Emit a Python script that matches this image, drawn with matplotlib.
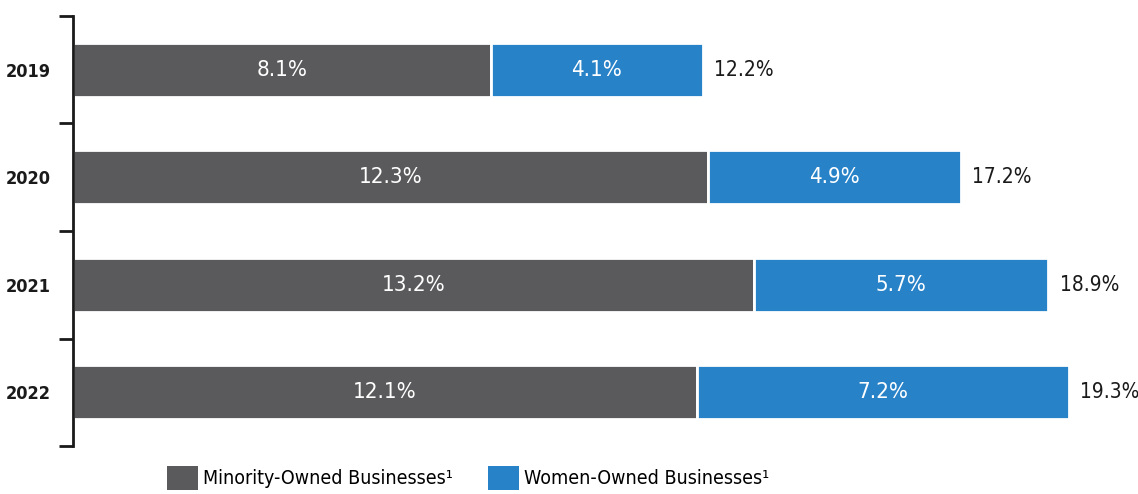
import matplotlib
matplotlib.use("Agg")
import matplotlib.pyplot as plt
from matplotlib.patches import Patch

years = ["2019", "2020", "2021", "2022"]
minority = [8.1, 12.3, 13.2, 12.1]
women = [4.1, 4.9, 5.7, 7.2]
totals = [12.2, 17.2, 18.9, 19.3]
series_names = ["Minority-Owned Businesses¹", "Women-Owned Businesses¹"]

gray = "#5a5a5c"
blue = "#2882c8"
plt.rcParams["font.family"] = ["DejaVu Sans"]
plt.rcParams["font.stretch"] = "condensed"

fig = plt.figure(figsize=(11.38, 4.94), dpi=100)
ax = fig.add_axes([73/1138, 48/494, 1 - 73/1138, 430/494])

y = list(range(len(years)))
ax.barh(y, minority, height=0.5, color=gray, edgecolor="white", linewidth=2)
ax.barh(y, women, left=minority, height=0.5, color=blue, edgecolor="white", linewidth=2)

for i in y:
    ax.text(minority[i] / 2, i, f"{minority[i]:.1f}%", ha="center", va="center",
            color="white", fontsize=16, stretch="condensed")
    ax.text(minority[i] + women[i] / 2, i, f"{women[i]:.1f}%", ha="center", va="center",
            color="white", fontsize=16, stretch="condensed")
    ax.text(totals[i] + 0.22, i, f"{totals[i]:.1f}%", ha="left", va="center",
            color="#1a1a1a", fontsize=15, stretch="condensed")

ax.set_xlim(0, 20.64)
ax.set_ylim(len(years) - 0.5, -0.5)
ax.set_yticks(y)
ax.set_yticklabels(years, fontsize=13, color="#1a1a1a", fontweight="bold", stretch="condensed")
ax.tick_params(axis="y", which="major", length=0, pad=16)
ax.set_yticks([i - 0.5 for i in range(len(years) + 1)], minor=True)
ax.tick_params(axis="y", which="minor", length=10, width=2, color="#1a1a1a")
ax.set_xticks([])
for s in ["top", "right", "bottom"]:
    ax.spines[s].set_visible(False)
ax.spines["left"].set_linewidth(2)
ax.spines["left"].set_color("#1a1a1a")

handles = [Patch(facecolor=gray, edgecolor="none"), Patch(facecolor=blue, edgecolor="none")]
fig.legend(handles, series_names, loc="center", bbox_to_anchor=(468/1138, 1 - 478/494),
           ncol=2, frameon=False, handlelength=1.6, handleheight=1.5,
           handletextpad=0.25, columnspacing=1.8,
           prop={"size": 14, "stretch": "condensed", "family": "DejaVu Sans"})

fig.savefig("out.png", dpi=100)
